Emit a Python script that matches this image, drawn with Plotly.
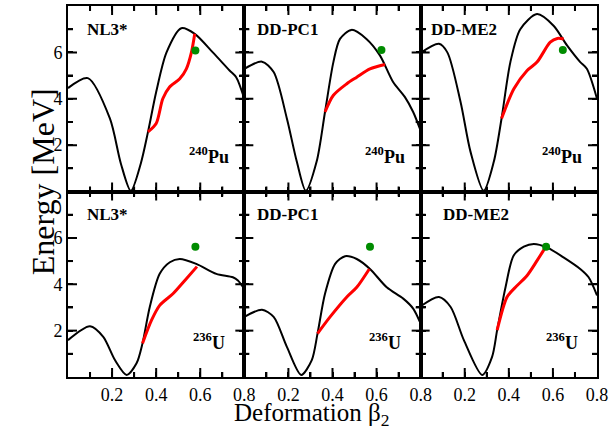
import plotly.graph_objects as go
from plotly.subplots import make_subplots

# ---------------- data ----------------
nuclei = ["<sup>240</sup>Pu", "<sup>236</sup>U"]
models = ["NL3*", "DD-PC1", "DD-ME2"]
x_tick_vals = [0.1, 0.2, 0.3, 0.4, 0.5, 0.6, 0.7, 0.8]
x_tick_text = ["", "0.2", "", "0.4", "", "0.6", "", "0.8"]
x_major = [0.2, 0.4, 0.6]
y_tick_vals = [1, 2, 3, 4, 5, 6, 7]
y_tick_text = ["", "2", "", "4", "", "6", ""]
y_major = [2, 4, 6]

# 240Pu, NL3*
pu_nl3_beta = [0.0, 0.09, 0.19, 0.24, 0.285, 0.33, 0.363, 0.40, 0.447, 0.514, 0.575, 0.657, 0.733, 0.763, 0.8]
pu_nl3_E = [4.46, 4.89, 3.15, 1.2, 0.03, 1.2, 2.57, 4.29, 6.0, 7.04, 6.8, 6.0, 5.22, 4.93, 4.0]
pu_nl3_fis_beta = [0.363, 0.40, 0.43, 0.46, 0.507, 0.537, 0.56, 0.575]
pu_nl3_fis_E = [2.57, 2.93, 4.0, 4.5, 4.86, 5.29, 6.0, 6.8]
pu_nl3_exp = (0.578, 6.08)

# 240Pu, DD-PC1
pu_pc1_beta = [0.0, 0.08, 0.133, 0.193, 0.238, 0.279, 0.328, 0.366, 0.404, 0.434, 0.486, 0.554, 0.615, 0.675, 0.728, 0.766, 0.8]
pu_pc1_E = [5.29, 5.6, 5.15, 3.15, 1.29, 0.03, 1.29, 3.43, 5.58, 6.58, 6.97, 6.58, 5.87, 4.72, 4.08, 3.43, 2.62]
pu_pc1_fis_beta = [0.366, 0.404, 0.465, 0.51, 0.57, 0.638]
pu_pc1_fis_E = [3.43, 4.15, 4.65, 4.93, 5.29, 5.48]
pu_pc1_exp = (0.622, 6.1)

# 240Pu, DD-ME2
pu_me2_beta = [0.0, 0.083, 0.121, 0.181, 0.226, 0.286, 0.332, 0.367, 0.407, 0.452, 0.528, 0.603, 0.664, 0.724, 0.754, 0.8]
pu_me2_E = [5.98, 6.37, 6.0, 3.86, 1.72, 0.03, 1.29, 3.15, 5.58, 7.0, 7.65, 7.15, 6.3, 5.58, 5.29, 4.0]
pu_me2_fis_beta = [0.367, 0.423, 0.483, 0.528, 0.588, 0.62, 0.649]
pu_me2_fis_E = [3.15, 4.43, 5.22, 5.58, 6.44, 6.6, 6.58]
pu_me2_exp = (0.645, 6.1)

# 236U, NL3*
u_nl3_beta = [0.0, 0.1, 0.16, 0.213, 0.266, 0.311, 0.338, 0.371, 0.416, 0.462, 0.507, 0.582, 0.673, 0.748, 0.771, 0.8]
u_nl3_E = [1.59, 2.19, 1.73, 0.73, 0.09, 0.59, 1.45, 3.02, 4.45, 4.95, 5.09, 4.88, 4.45, 4.3, 4.16, 3.8]
u_nl3_fis_beta = [0.338, 0.379, 0.416, 0.476, 0.537, 0.585]
u_nl3_fis_E = [1.45, 2.45, 3.09, 3.59, 4.24, 4.76]
u_nl3_exp = (0.578, 5.62)

# 236U, DD-PC1
u_pc1_beta = [0.0, 0.08, 0.133, 0.193, 0.258, 0.306, 0.332, 0.366, 0.412, 0.457, 0.51, 0.57, 0.646, 0.721, 0.766, 0.8]
u_pc1_E = [2.59, 2.9, 2.59, 1.3, 0.09, 0.73, 1.87, 3.59, 4.88, 5.21, 5.09, 4.66, 3.87, 3.38, 2.95, 2.3]
u_pc1_fis_beta = [0.332, 0.389, 0.465, 0.51, 0.567]
u_pc1_fis_E = [1.87, 2.59, 3.45, 3.87, 4.66]
u_pc1_exp = (0.57, 5.62)

# 236U, DD-ME2
u_me2_beta = [0.0, 0.083, 0.136, 0.196, 0.279, 0.324, 0.347, 0.385, 0.422, 0.468, 0.513, 0.573, 0.648, 0.724, 0.762, 0.8]
u_me2_E = [3.05, 3.45, 3.02, 1.59, 0.09, 0.87, 2.02, 3.87, 5.24, 5.62, 5.74, 5.59, 5.16, 4.66, 4.3, 3.52]
u_me2_fis_beta = [0.347, 0.392, 0.43, 0.483, 0.528, 0.566]
u_me2_fis_E = [2.02, 3.45, 3.87, 4.38, 5.02, 5.59]
u_me2_exp = (0.569, 5.62)

panels = [
    [(pu_nl3_beta, pu_nl3_E, pu_nl3_fis_beta, pu_nl3_fis_E, pu_nl3_exp),
     (pu_pc1_beta, pu_pc1_E, pu_pc1_fis_beta, pu_pc1_fis_E, pu_pc1_exp),
     (pu_me2_beta, pu_me2_E, pu_me2_fis_beta, pu_me2_fis_E, pu_me2_exp)],
    [(u_nl3_beta, u_nl3_E, u_nl3_fis_beta, u_nl3_fis_E, u_nl3_exp),
     (u_pc1_beta, u_pc1_E, u_pc1_fis_beta, u_pc1_fis_E, u_pc1_exp),
     (u_me2_beta, u_me2_E, u_me2_fis_beta, u_me2_fis_E, u_me2_exp)],
]

SERIF = "Liberation Serif"
# tick lengths as fractions of a panel (panel ~176 px wide, ~186 px tall)
XT_MAJOR, XT_MINOR = 9 / 186.5, 5 / 186.5
YT_MAJOR, YT_MINOR = 9 / 176.3, 5 / 176.3

fig = make_subplots(rows=2, cols=3, horizontal_spacing=0, vertical_spacing=0)

for r in range(2):
    for c in range(3):
        b, e, fb, fe, exp = panels[r][c]
        fig.add_trace(go.Scatter(x=b, y=e, mode="lines", line=dict(color="black", width=2, shape="spline", smoothing=0.8)),
                      row=r + 1, col=c + 1)
        fig.add_trace(go.Scatter(x=fb, y=fe, mode="lines", line=dict(color="#ff0000", width=3, shape="spline", smoothing=0.8)),
                      row=r + 1, col=c + 1)
        fig.add_trace(go.Scatter(x=[exp[0]], y=[exp[1]], mode="markers", marker=dict(color="#008c00", size=8)),
                      row=r + 1, col=c + 1)

label_x = [[0.18, 0.196, 0.195], [0.18, 0.196, 0.25]]
tick_line = dict(color="black", width=2)
for r in range(2):
    for c in range(3):
        idx = r * 3 + c + 1
        xr = "x" if idx == 1 else f"x{idx}"
        yr = "y" if idx == 1 else f"y{idx}"
        fig.add_annotation(x=label_x[r][c], y=7.0, xref=xr, yref=yr, text=f"<b>{models[c]}</b>",
                           showarrow=False, font=dict(family=SERIF, size=17, color="black"))
        fig.add_annotation(x=0.64, y=0.95, xref=xr, yref=yr, text=f"<b>{nuclei[r]}</b>", yanchor="bottom",
                           showarrow=False, font=dict(family=SERIF, size=18, color="black"))
        # inside tick marks on all four edges, placed at the tick values through the axes
        for v in x_tick_vals[:-1]:
            L = XT_MAJOR if v in x_major else XT_MINOR
            fig.add_shape(type="line", xref=xr, yref=f"{yr} domain", x0=v, x1=v, y0=0, y1=L, line=tick_line)
            fig.add_shape(type="line", xref=xr, yref=f"{yr} domain", x0=v, x1=v, y0=1, y1=1 - L, line=tick_line)
        for v in y_tick_vals:
            L = YT_MAJOR if v in y_major else YT_MINOR
            fig.add_shape(type="line", xref=f"{xr} domain", yref=yr, x0=0, x1=L, y0=v, y1=v, line=tick_line)
            fig.add_shape(type="line", xref=f"{xr} domain", yref=yr, x0=1, x1=1 - L, y0=v, y1=v, line=tick_line)

for r in range(2):
    for c in range(3):
        fig.update_xaxes(range=[0, 0.8], tickmode="array", tickvals=x_tick_vals,
                         ticktext=x_tick_text, showticklabels=(r == 1),
                         ticks="inside", ticklen=5, tickwidth=2, tickcolor="black",
                         showline=True, linewidth=2, linecolor="black", mirror="ticks",
                         showgrid=False, zeroline=False,
                         tickfont=dict(family=SERIF, size=18, color="black"), row=r + 1, col=c + 1)
        fig.update_yaxes(range=[0, 8], tickmode="array", tickvals=y_tick_vals, ticktext=y_tick_text,
                         showticklabels=(c == 0),
                         ticks="inside", ticklen=5, tickwidth=2, tickcolor="black",
                         showline=True, linewidth=2, linecolor="black", mirror="ticks",
                         showgrid=False, zeroline=False,
                         tickfont=dict(family=SERIF, size=18, color="black"), row=r + 1, col=c + 1)

fig.add_annotation(xref="paper", yref="paper", x=0, y=0.525, xshift=-45, text="Energy [MeV]",
                   textangle=-90, showarrow=False, font=dict(family=SERIF, size=32, color="black"))
fig.add_annotation(xref="paper", yref="paper", x=0.461, y=-0.1, text="Deformation β<sub>2</sub>",
                   showarrow=False, yanchor="middle", font=dict(family=SERIF, size=25, color="black"))

fig.update_layout(width=613, height=434, margin=dict(l=68, r=16, t=4, b=57), showlegend=False,
                  plot_bgcolor="white", paper_bgcolor="white")

fig.write_html("out.html", config={"displayModeBar": False},
               post_script="document.body.style.margin='0';document.body.style.overflow='hidden';")
